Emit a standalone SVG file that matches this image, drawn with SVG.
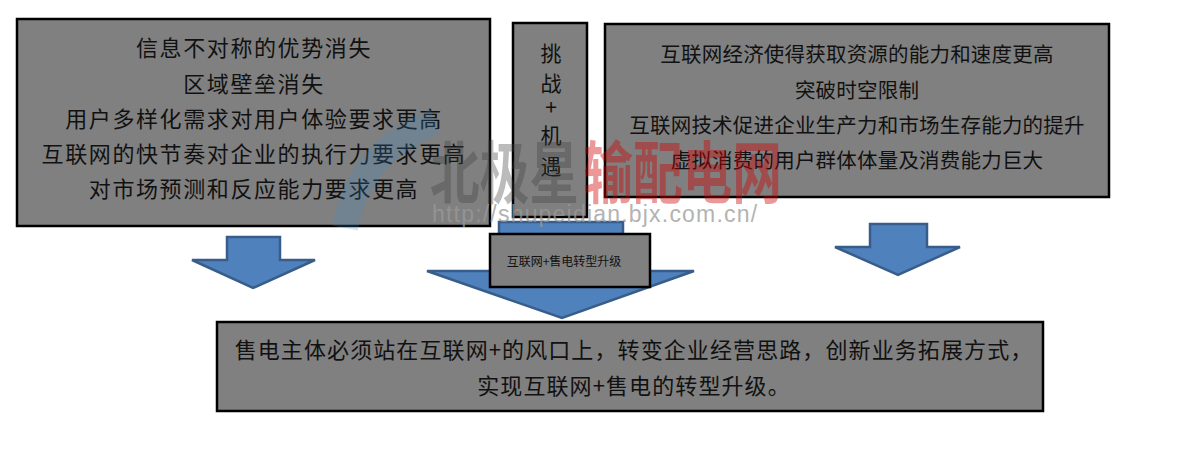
<svg xmlns="http://www.w3.org/2000/svg" width="1204" height="449" viewBox="0 0 1204 449">
<style>
.box{fill:#808080;stroke:#000;stroke-width:2.5}
.t{font-family:"Noto Sans CJK SC","Noto Sans",sans-serif;font-size:22px;fill:#111;text-anchor:middle;letter-spacing:1.6px}
.tr{font-family:"Noto Sans CJK SC","Noto Sans",sans-serif;font-size:20.5px;fill:#111;text-anchor:middle;letter-spacing:0.2px}
.tv{font-family:"Noto Sans CJK SC","Noto Sans",sans-serif;font-size:21px;fill:#111;text-anchor:middle}
.ts{font-family:"Noto Sans CJK SC","Noto Sans",sans-serif;font-size:12px;fill:#111;text-anchor:middle}
.arrow{fill:#4f81bd;stroke:#385d8a;stroke-width:2.5;stroke-linejoin:miter}
.wm{font-family:"Noto Sans CJK SC",sans-serif;font-weight:bold;font-size:68px}
.url{font-family:"Liberation Sans",Arial,sans-serif;font-size:23px;fill:#9a9a9a;letter-spacing:1.2px;opacity:0.75}
</style>
<rect width="1204" height="449" fill="#fff"/>
<g id="connectors">
<path class="arrow" d="M227,237 H280 V260 H315 L253,288 L192,260 H227 Z"/>
<path class="arrow" d="M499,222 H623 V271 H694 L562,318 L427,271 H499 Z"/>
<path class="arrow" d="M870,224 H927 V247 H960 L898,275 L835,247 H870 Z"/>
</g>
<g id="challenges">
<rect class="box" x="17" y="19" width="473" height="207"/>
<text class="t" x="254" y="56">信息不对称的优势消失</text>
<text class="t" x="254" y="92">区域壁垒消失</text>
<text class="t" x="254" y="127">用户多样化需求对用户体验要求更高</text>
<text class="t" x="254" y="162">互联网的快节奏对企业的执行力要求更高</text>
<text class="t" x="254" y="197">对市场预测和反应能力要求更高</text>
</g>
<g id="center-label">
<rect class="box" x="513" y="23" width="74" height="194"/>
<text class="tv" x="551" y="61">挑</text>
<text class="tv" x="551" y="91">战</text>
<text class="tv" x="551" y="115">+</text>
<text class="tv" x="551" y="143">机</text>
<text class="tv" x="551" y="174">遇</text>
</g>
<g id="opportunities">
<rect class="box" x="605" y="24" width="504" height="173"/>
<text class="tr" x="857" y="62">互联网经济使得获取资源的能力和速度更高</text>
<text class="tr" x="857" y="98">突破时空限制</text>
<text class="tr" x="857" y="133">互联网技术促进企业生产力和市场生存能力的提升</text>
<text class="tr" x="857" y="168">虚拟消费的用户群体体量及消费能力巨大</text>
</g>
<g id="upgrade-label">
<rect class="box" x="490" y="234" width="160" height="53"/>
<text class="ts" x="564" y="266">互联网+售电转型升级</text>
</g>
<g id="conclusion">
<rect class="box" x="217" y="322" width="826" height="89"/>
<text class="t" x="634" y="358" style="letter-spacing:1.1px">售电主体必须站在互联网+的风口上，转变企业经营思路，创新业务拓展方式，</text>
<text class="t" x="634" y="394" style="letter-spacing:1.1px">实现互联网+售电的转型升级。</text>
</g>
<g id="watermark">
<path d="M345,228 Q360,150 435,122" fill="none" stroke="#3d8fc9" stroke-width="26" opacity="0.22"/>
<g transform="translate(430,198) scale(0.73,1)">
<text class="wm" x="0" y="0" fill="#404040" opacity="0.35">北极星</text>
<text class="wm" x="210" y="0" fill="#d00000" opacity="0.4">输配电网</text>
</g>
<text class="url" x="432" y="222">http://shupeidian.bjx.com.cn/</text>
</g>
</svg>
